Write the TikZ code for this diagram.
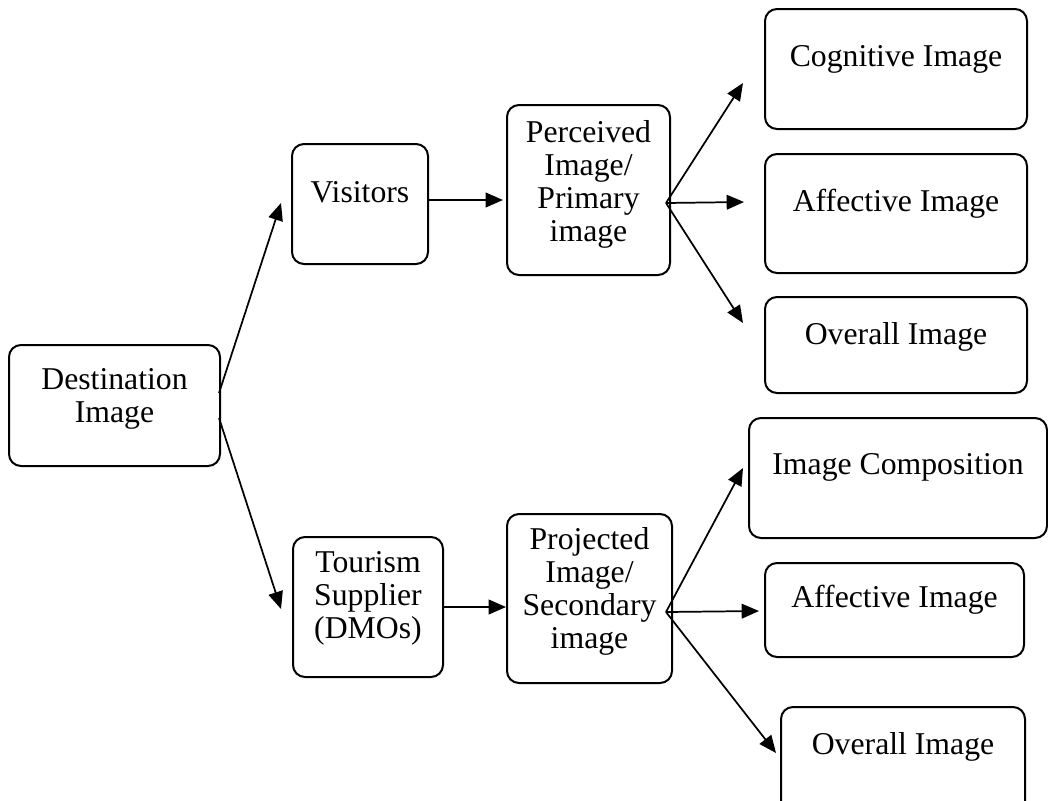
\documentclass[tikz,border=0pt]{standalone}
\usepackage{fontspec}
\setmainfont{Liberation Serif}
\usetikzlibrary{arrows.meta,positioning,calc}

\tikzset{
  imgbox/.style 2 args={draw, rounded corners=9pt, line width=1.5pt, minimum width=#1*0.75pt, minimum height=#2*0.75pt, inner sep=0pt},
  boxtext/.style={align=center, inner sep=0pt, font=\fontsize{23.8pt}{24.75pt}\selectfont},
  arr/.style={line width=1.3pt, -{Triangle[length=13pt,width=11pt]}},
}

\begin{document}
\begin{tikzpicture}[x=0.75pt,y=0.75pt,yscale=-1,xscale=1]
\path[use as bounding box] (0,0) rectangle (1048,800);

%Shape: Rounded Boxes
    \node[imgbox={211}{121}] (dest) at (114.5,405.5) {};
    \node[imgbox={136}{120}] (vis) at (360,204) {};
    \node[imgbox={150}{140}] (tour) at (368,607) {};
    \node[imgbox={163}{170}] (perc) at (588.5,190) {};
    \node[imgbox={165}{169}] (proj) at (589.5,598.5) {};
    \node[imgbox={262}{120}] (cog) at (896,69) {};
    \node[imgbox={262}{119}] (aff1) at (896,213.5) {};
    \node[imgbox={262}{96}] (ov1) at (896,345) {};
    \node[imgbox={298}{120}] (comp) at (898,478) {};
    \node[imgbox={259}{94}] (aff2) at (894.5,610) {};
    \node[imgbox={244}{120}] (ov2) at (903,767) {};

% Text Node
    \node[boxtext, below=18pt of dest.north] (destT) {Destination\\Image};
    \node[boxtext, below=28.5pt of vis.north] (visT) {Visitors};
    \node[boxtext, below=11.25pt of tour.north] (tourT) {Tourism\\Supplier\\(DMOs)};
    \node[boxtext, below=12pt of perc.north] (percT) {Perceived\\Image/\\Primary\\image};
    \node[boxtext, below=10.5pt of proj.north] (projT) {Projected\\Image/\\Secondary\\image};
    \node[boxtext, below=27.75pt of cog.north] (cogT) {Cognitive Image};
    \node[boxtext, below=27pt of aff1.north] (aff1T) {Affective Image};
    \node[boxtext, below=19.5pt of ov1.north] (ov1T) {Overall Image};
    \node[boxtext, below=27pt of comp.north] (compT) {Image Composition};
    \node[boxtext, below=17.25pt of aff2.north] (aff2T) {Affective Image};
    \node[boxtext, below=19.5pt of ov2.north] (ov2T) {Overall Image};

%Straight Lines
    \draw[arr] ($(dest.east)+(-2,-12.5)$) -- ($(vis.west)+(-10,-1)$);
    \draw[arr] ($(dest.east)+(-2,12.5)$) -- ($(tour.west)+(-11,2)$);
    \draw[arr] ($(vis.east)+(-2,-4)$) -- ($(vis.east -| perc.west)+(-3,-4)$);
    \draw[arr] (tour.east) -- (tour.east -| proj.west);

    \coordinate (pfan) at ($(perc.east)+(-5,13)$);
    \draw[arr] (pfan) -- ($(cog.west)+(-21,14)$);
    \draw[arr] (pfan) -- ($(aff1.west)+(-20,-11.5)$);
    \draw[arr] (pfan) -- ($(ov1.west)+(-21,-22)$);

    \coordinate (qfan) at ($(proj.east)+(-7,13.5)$);
    \draw[arr] (qfan) -- ($(comp.west)+(-5,-10)$);
    \draw[arr] (qfan) -- ($(aff2.west)+(-5,1)$);
    \draw[arr] (qfan) -- ($(ov2.west)+(-4,-14)$);

\end{tikzpicture}
\end{document}
